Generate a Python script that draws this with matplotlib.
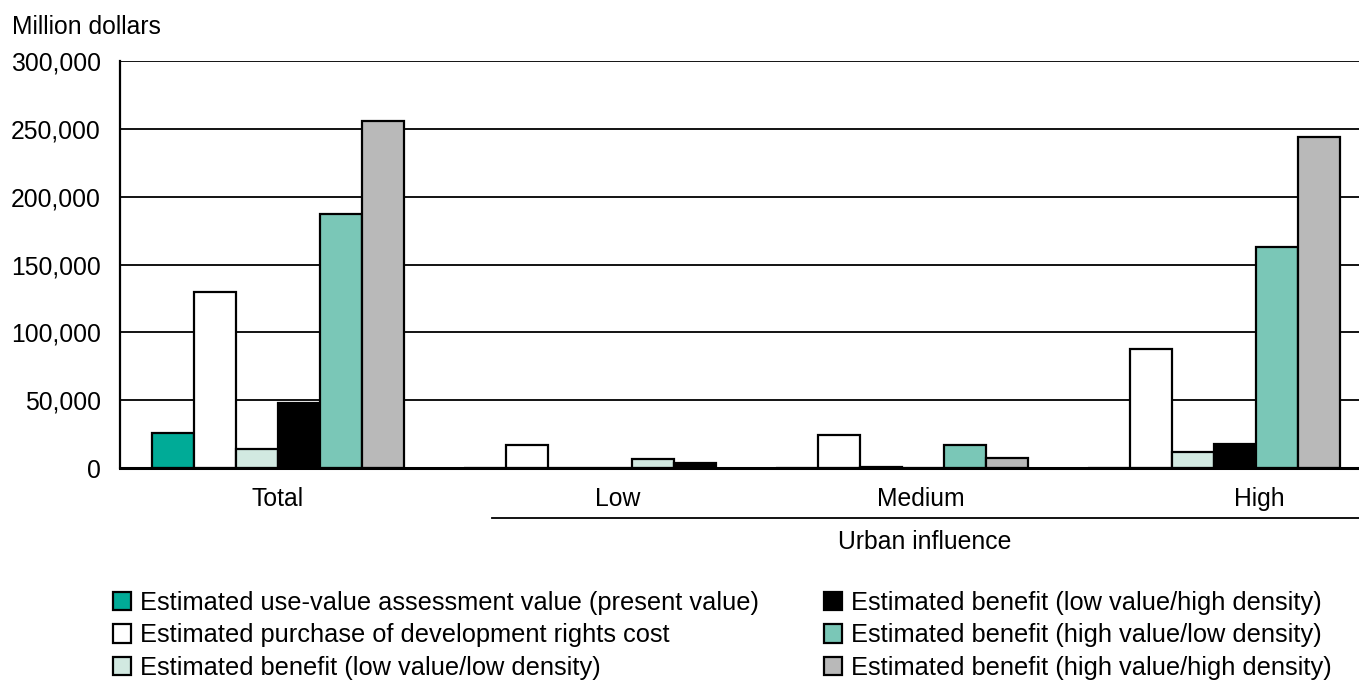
import matplotlib
matplotlib.use("Agg")
import matplotlib.pyplot as plt
import matplotlib.transforms as mtransforms
from matplotlib.patches import Patch
import numpy as np

plt.rcParams['font.family'] = ['Liberation Sans', 'DejaVu Sans']

categories = ["Total", "Low", "Medium", "High"]
series_names = [
    "Estimated use-value assessment value (present value)",
    "Estimated purchase of development rights cost",
    "Estimated benefit (low value/low density)",
    "Estimated benefit (low value/high density)",
    "Estimated benefit (high value/low density)",
    "Estimated benefit (high value/high density)",
]
use_value = [26000, 0, 0, 0]
pdr_cost = [130000, 17000, 24000, 87500]
low_low = [14000, 0, 1000, 12000]
low_high = [48000, 0, 0, 17500]
high_low = [187000, 6500, 17000, 163000]
high_high = [256000, 3500, 7500, 244000]
yticks = [0, 50000, 100000, 150000, 200000, 250000, 300000]

series = [use_value, pdr_cost, low_low, low_high, high_low, high_high]
colors = ["#00AB97", "#FFFFFF", "#D2E9E1", "#000000", "#7AC7B7", "#B9B9B9"]
# In the reference, the Low group's last two bars are drawn in other colours
overrides = {(1, 4): colors[2], (1, 5): colors[3]}

W, H = 1359, 680
fig = plt.figure(figsize=(W / 100, H / 100), dpi=100)
ax = fig.add_axes([120 / W, 1 - 468 / H, 1 - 120 / W, (468 - 61) / H])

FS = 17.8
LFS = 18.3
bw = 42 / 312
x = np.arange(len(categories))
for k, vals in enumerate(series):
    fc = [overrides.get((g, k), colors[k]) for g in range(len(categories))]
    ax.bar(x + (k - 2.5) * bw, vals, width=bw, color=fc, edgecolor="black",
           linewidth=1.6, zorder=3)

ax.set_ylim(0, 300000)
ax.set_xlim((120 - 278) / 312, (1359 - 278) / 312)
ax.set_yticks(yticks)
ax.set_yticklabels([f"{v:,}" for v in yticks], fontsize=FS)
ax.yaxis.grid(True, color="black", linewidth=1.3, zorder=0)
ax.tick_params(axis="y", length=0, pad=14)
ax.tick_params(axis="x", length=0, pad=14)
label_pos = [0.0, (618 - 278) / 312, (921 - 278) / 312, (1259 - 278) / 312]
ax.set_xticks(label_pos)
ax.set_xticklabels(categories, fontsize=FS)
for s in ["top", "right"]:
    ax.spines[s].set_visible(False)
ax.spines["left"].set_linewidth(1.6)
ax.spines["bottom"].set_linewidth(2.2)
ax.spines["bottom"].set_zorder(4)

trans = mtransforms.blended_transform_factory(ax.transData, ax.transAxes)
ax.plot([(492 - 278) / 312, (1359 - 278) / 312], [-50 / 407, -50 / 407],
        color="black", linewidth=1.3, transform=trans, clip_on=False)
ax.text((925 - 278) / 312, -74 / 407, "Urban influence", transform=trans,
        ha="center", va="center", fontsize=FS)

fig.text(12 / W, 1 - 27 / H, "Million dollars", fontsize=FS, ha="left", va="center")

handles = [Patch(facecolor=c, edgecolor="black", linewidth=1.6) for c in colors]
leg_kw = dict(frameon=False, fontsize=LFS, handlelength=0.72, handleheight=0.72,
              handletextpad=0.36, labelspacing=0.33, borderpad=0, borderaxespad=0)
fig.legend(handles[:3], series_names[:3], loc="upper left",
           bbox_to_anchor=(113 / W, 1 - 591 / H), **leg_kw)
fig.legend(handles[3:], series_names[3:], loc="upper left",
           bbox_to_anchor=(824 / W, 1 - 591 / H), **leg_kw)

fig.savefig("out.png", dpi=100)
